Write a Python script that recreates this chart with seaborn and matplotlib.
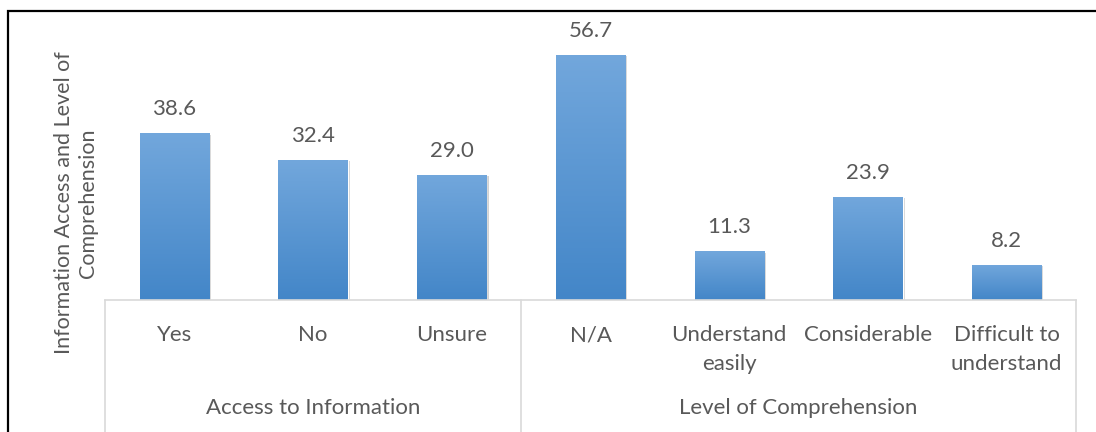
import matplotlib
matplotlib.use("Agg")
import matplotlib.pyplot as plt
import matplotlib.patheffects as pe
import matplotlib.transforms as mtransforms
from matplotlib.colors import LinearSegmentedColormap
import numpy as np
import pandas as pd
import seaborn as sns

# Survey categories, grouped into two blocks
categories = ["Yes", "No", "Unsure", "N/A", "Understand\neasily",
              "Considerable", "Difficult to\nunderstand"]
values = [38.6, 32.4, 29.0, 56.7, 11.3, 23.9, 8.2]
groups = ["Access to Information", "Level of Comprehension"]
group_sizes = [3, 4]
y_label = "Information Access and Level of\nComprehension"

sns.set_theme(style="white")
plt.rcParams["font.family"] = ["Lato", "DejaVu Sans"]

TEXT = "#595959"
GRID = "#D9D9D9"
FS = 16

fig = plt.figure(figsize=(10.96, 4.32), dpi=100)
ax = fig.add_axes([105 / 1096, 1 - 300 / 432, (1076 - 105) / 1096, 0.6])

df = pd.DataFrame({"category": categories, "value": values})
sns.barplot(data=df, x="category", y="value", color="#5B9BD5", width=0.5,
            ax=ax, saturation=1)

# Vertical gradient fill + soft shadow on each bar
cmap = LinearSegmentedColormap.from_list("barfill", ["#4386C8", "#72A7DC"])
grad = np.linspace(0, 1, 256).reshape(-1, 1)
for patch in ax.patches:
    x0, y0 = patch.get_x(), patch.get_y()
    w, h = patch.get_width(), patch.get_height()
    patch.set_path_effects([
        pe.SimplePatchShadow(offset=(1.5, -1.0), shadow_rgbFace="#7f7f7f", alpha=0.35),
        pe.Normal(),
    ])
    im = ax.imshow(grad, extent=[x0, x0 + w, y0, y0 + h], origin="lower",
                   cmap=cmap, aspect="auto", zorder=patch.get_zorder() + 0.1)
    im.set_clip_path(patch)

ax.set_xlim(-0.5, len(categories) - 0.5)
ax.set_ylim(0, 60)

# Value labels above bars
for x, v in enumerate(values):
    ax.annotate(f"{v:.1f}", (x, v), xytext=(0, 10), textcoords="offset points",
                ha="center", va="bottom", fontsize=FS, color=TEXT)

# Axes cosmetics
for side in ["top", "right", "left"]:
    ax.spines[side].set_visible(False)
ax.spines["bottom"].set_color(GRID)
ax.spines["bottom"].set_linewidth(1.2)
ax.set_yticks([])
ax.set_xlabel("")
ax.set_ylabel("")
ax.set_xticks(range(len(categories)))
ax.set_xticklabels(categories, fontsize=FS, color=TEXT, linespacing=1.55)
ax.tick_params(axis="x", length=0, pad=18)

# Group separators and group labels
trans = mtransforms.blended_transform_factory(ax.transData, ax.transAxes)
edges = np.concatenate([[0], np.cumsum(group_sizes)]) - 0.5
for e in edges:
    ax.plot([e, e], [0, -0.52], transform=trans, color=GRID, lw=1.2,
            clip_on=False)
for i, g in enumerate(groups):
    mid = (edges[i] + edges[i + 1]) / 2
    ax.text(mid, -0.417, g, transform=trans, ha="center", va="center",
            fontsize=FS, color=TEXT)

# Axis title
fig.text(76 / 1096, 1 - 203 / 432, y_label, rotation=90, ha="center",
         va="center", fontsize=15.5, color=TEXT, multialignment="center",
         linespacing=1.3)

# Chart frame
fig.patches.append(plt.Rectangle((8 / 1096, -0.1), 1.1, 1 - 11 / 432 + 0.1,
                                 transform=fig.transFigure, fill=False,
                                 edgecolor="black", lw=1.6))

fig.savefig("out.png", dpi=100)
